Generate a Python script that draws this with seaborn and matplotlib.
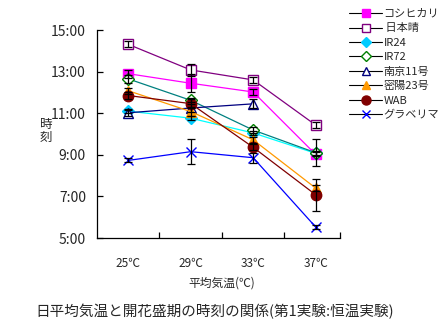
import numpy as np
import pandas as pd
import matplotlib
matplotlib.use("Agg")
import matplotlib.pyplot as plt
from matplotlib.ticker import FuncFormatter, FixedLocator
from matplotlib.lines import Line2D
import seaborn as sns

# Temperature treatments
temps = ["25℃", "29℃", "33℃", "37℃"]

# Time of peak flowering (hour of day) per variety
koshihikari = [12.90, 12.44, 12.02, 9.02]
nihonbare = [14.31, 13.08, 12.60, 10.43]
ir24 = [11.10, 10.76, 10.05, 9.07]
ir72 = [12.65, 11.62, 10.19, 9.10]
nanjing11 = [11.02, 11.25, 11.45, np.nan]
milyang23 = [12.08, 11.08, 9.72, 7.40]
wab = [11.85, 11.46, 9.36, 7.08]
glaberrima = [8.73, 9.15, 8.86, 5.53]

# Standard errors (hours)
koshihikari_err = [0.20, 0.43, 0.15, 0.10]
nihonbare_err = [0.15, 0.30, 0.15, 0.15]
ir24_err = [0.10, 0.10, 0.10, 0.10]
ir72_err = [0.20, 0.10, 0.15, 0.64]
nanjing11_err = [0.15, 0.20, 0.22, np.nan]
milyang23_err = [0.15, 0.20, 0.15, 0.15]
wab_err = [0.15, 0.20, 0.15, 0.77]
glaberrima_err = [0.10, 0.60, 0.25, 0.10]

labels = ["コシヒカリ", " 日本晴", "IR24", "IR72", "南京11号", "密陽23号", "WAB", "グラベリマ"]
values = [koshihikari, nihonbare, ir24, ir72, nanjing11, milyang23, wab, glaberrima]
errors = [koshihikari_err, nihonbare_err, ir24_err, ir72_err,
          nanjing11_err, milyang23_err, wab_err, glaberrima_err]

styles = [
    dict(color="#FF00FF", marker="s", mfc="#FF00FF", mec="#FF00FF", ms=7),
    dict(color="#800080", marker="s", mfc="white", mec="#800080", ms=7),
    dict(color="#00FFFF", marker="D", mfc="#00CCFF", mec="#00CCFF", ms=6),
    dict(color="#008080", marker="D", mfc="white", mec="#008000", ms=6),
    dict(color="#000080", marker="^", mfc="white", mec="#000080", ms=7),
    dict(color="#FF9900", marker="^", mfc="#FF9900", mec="#FF9900", ms=7),
    dict(color="#800000", marker="o", mfc="#800000", mec="#800000", ms=7.5),
    dict(color="#0000FF", marker="x", mfc="#0000FF", mec="#0000FF", ms=7),
]

sns.set_theme(style="white")
plt.rcParams["font.family"] = ["Noto Sans CJK JP", "DejaVu Sans"]

fig = plt.figure(figsize=(4.48, 3.27), dpi=100)
ax = fig.add_axes([97 / 448, 1 - 238 / 327, (340 - 97) / 448, (238 - 30) / 327])

pos = np.arange(len(temps))
handles = []
for lab, vals, errs, st in zip(labels, values, errors, styles):
    df = pd.DataFrame({"pos": pos, "time": vals}).dropna()
    sns.lineplot(data=df, x="pos", y="time", ax=ax, color=st["color"],
                 linewidth=0.9, marker=st["marker"], markersize=st["ms"],
                 markerfacecolor=st["mfc"], markeredgecolor=st["mec"],
                 markeredgewidth=1.0, legend=False, zorder=2)
    ax.errorbar(pos, vals, yerr=errs, fmt="none", ecolor="black",
                elinewidth=0.9, capsize=3, capthick=0.9, zorder=3)
    # legend key: black line with the series marker in the middle
    handles.append(Line2D([0], [0], color="black", linewidth=0.8,
                          marker=st["marker"], markersize=st["ms"] - 1,
                          markerfacecolor=st["mfc"], markeredgecolor=st["mec"],
                          markeredgewidth=1.0))

ax.set_xlim(-0.5, 3.39)
ax.set_ylim(5, 15)
ax.set_yticks([5, 7, 9, 11, 13, 15])
ax.yaxis.set_major_formatter(FuncFormatter(lambda v, p: f"{int(round(v))}:00"))
ax.set_xticks(pos)
ax.set_xticklabels(temps, fontsize=8.5)
ax.xaxis.set_minor_locator(FixedLocator([0.5, 1.5, 2.5, 3.39]))
ax.tick_params(axis="x", which="major", length=0, pad=14)
ax.tick_params(axis="x", which="minor", direction="in", length=4, width=0.9,
               bottom=True, color="black")
ax.tick_params(axis="y", direction="in", length=4, width=0.9, left=True,
               color="black", labelsize=10, pad=8)
for s in ["top", "right"]:
    ax.spines[s].set_visible(False)
for s in ["left", "bottom"]:
    ax.spines[s].set_color("black")
    ax.spines[s].set_linewidth(0.9)
ax.set_xlabel("")
ax.set_ylabel("")

fig.text(46 / 448, 1 - 131 / 327, "時\n刻", fontsize=9, ha="center", va="center",
         linespacing=1.0)
fig.text(222 / 448, 1 - 283 / 327, "平均気温(℃)", fontsize=8.5, ha="center", va="center")
fig.text(215 / 448, 1 - 312 / 327, "日平均気温と開花盛期の時刻の関係(第1実験:恒温実験)",
         fontsize=10.5, ha="center", va="center")

leg = fig.legend(handles, labels, loc="upper left",
                 bbox_to_anchor=(349 / 448, 1 - 9 / 327), frameon=False,
                 fontsize=8, handlelength=3.0, handletextpad=0.1,
                 labelspacing=0.4, borderaxespad=0, borderpad=0)

fig.savefig("out.png", dpi=100, facecolor="white")
